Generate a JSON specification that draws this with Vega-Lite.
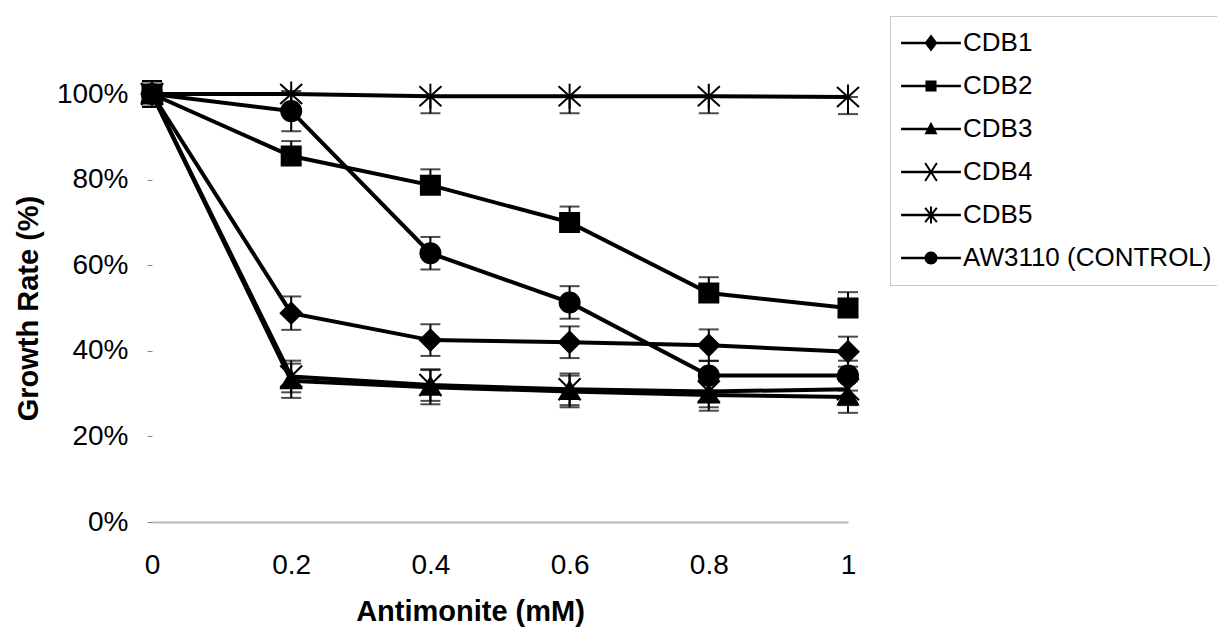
{
  "$schema": "https://vega.github.io/schema/vega-lite/v6.json",
  "width": 696,
  "height": 428,
  "autosize": {"type": "none"},
  "padding": {"left": 152, "top": 94, "right": 369, "bottom": 109},
  "background": "white",
  "config": {"view": {"stroke": null}, "font": "Liberation Sans"},
  "data": {"values": [
    {"series": "CDB1", "x": 0, "v": 1.0, "lo": 0.97, "hi": 1.03},
    {"series": "CDB1", "x": 0.2, "v": 0.488, "lo": 0.449, "hi": 0.527},
    {"series": "CDB1", "x": 0.4, "v": 0.425, "lo": 0.388, "hi": 0.462},
    {"series": "CDB1", "x": 0.6, "v": 0.42, "lo": 0.383, "hi": 0.457},
    {"series": "CDB1", "x": 0.8, "v": 0.413, "lo": 0.376, "hi": 0.45},
    {"series": "CDB1", "x": 1, "v": 0.398, "lo": 0.363, "hi": 0.433},
    {"series": "CDB2", "x": 0, "v": 1.0, "lo": 1.0, "hi": 1.03},
    {"series": "CDB2", "x": 0.2, "v": 0.855, "lo": 0.855, "hi": 0.89},
    {"series": "CDB2", "x": 0.4, "v": 0.787, "lo": 0.787, "hi": 0.824},
    {"series": "CDB2", "x": 0.6, "v": 0.70, "lo": 0.70, "hi": 0.737},
    {"series": "CDB2", "x": 0.8, "v": 0.535, "lo": 0.535, "hi": 0.572},
    {"series": "CDB2", "x": 1, "v": 0.50, "lo": 0.50, "hi": 0.537},
    {"series": "CDB3", "x": 0, "v": 1.0, "lo": 0.97, "hi": 1.03},
    {"series": "CDB3", "x": 0.2, "v": 0.33, "lo": 0.29, "hi": 0.37},
    {"series": "CDB3", "x": 0.4, "v": 0.315, "lo": 0.275, "hi": 0.355},
    {"series": "CDB3", "x": 0.6, "v": 0.305, "lo": 0.268, "hi": 0.342},
    {"series": "CDB3", "x": 0.8, "v": 0.297, "lo": 0.26, "hi": 0.334},
    {"series": "CDB3", "x": 1, "v": 0.292, "lo": 0.255, "hi": 0.329},
    {"series": "CDB4", "x": 0, "v": 1.0, "lo": 0.97, "hi": 1.03},
    {"series": "CDB4", "x": 0.2, "v": 0.34, "lo": 0.303, "hi": 0.377},
    {"series": "CDB4", "x": 0.4, "v": 0.32, "lo": 0.283, "hi": 0.357},
    {"series": "CDB4", "x": 0.6, "v": 0.31, "lo": 0.273, "hi": 0.347},
    {"series": "CDB4", "x": 0.8, "v": 0.305, "lo": 0.268, "hi": 0.342},
    {"series": "CDB4", "x": 1, "v": 0.31, "lo": 0.273, "hi": 0.347},
    {"series": "CDB5", "x": 0, "v": 1.0, "lo": 0.97, "hi": 1.0},
    {"series": "CDB5", "x": 0.2, "v": 1.0, "lo": 0.96, "hi": 1.0},
    {"series": "CDB5", "x": 0.4, "v": 0.995, "lo": 0.955, "hi": 0.995},
    {"series": "CDB5", "x": 0.6, "v": 0.995, "lo": 0.955, "hi": 0.995},
    {"series": "CDB5", "x": 0.8, "v": 0.995, "lo": 0.955, "hi": 0.995},
    {"series": "CDB5", "x": 1, "v": 0.993, "lo": 0.953, "hi": 0.993},
    {"series": "AW3110 (CONTROL)", "x": 0, "v": 1.0, "lo": 0.97, "hi": 1.03},
    {"series": "AW3110 (CONTROL)", "x": 0.2, "v": 0.96, "lo": 0.913, "hi": 1.007},
    {"series": "AW3110 (CONTROL)", "x": 0.4, "v": 0.628, "lo": 0.59, "hi": 0.666},
    {"series": "AW3110 (CONTROL)", "x": 0.6, "v": 0.513, "lo": 0.475, "hi": 0.551},
    {"series": "AW3110 (CONTROL)", "x": 0.8, "v": 0.342, "lo": 0.307, "hi": 0.377},
    {"series": "AW3110 (CONTROL)", "x": 1, "v": 0.342, "lo": 0.307, "hi": 0.377}
  ]},
  "encoding": {
    "x": {
      "field": "x", "type": "quantitative",
      "scale": {"domain": [0, 1], "nice": false, "zero": false},
      "axis": {
        "title": "Antimonite (mM)",
        "values": [0, 0.2, 0.4, 0.6, 0.8, 1],
        "format": "~g",
        "grid": false,
        "ticks": false,
        "labelFontSize": 28,
        "labelColor": "black",
        "labelFont": "Liberation Sans",
        "labelPadding": 29,
        "labelFlush": false,
        "labelOverlap": false,
        "domainColor": "#b8b8b8",
        "domainWidth": 2,
        "titleFont": "Liberation Sans",
        "titleFontSize": 29,
        "titleFontWeight": "bold",
        "titleColor": "black",
        "titlePadding": 18,
        "titleX": 318
      }
    },
    "y": {
      "field": "v", "type": "quantitative",
      "title": "Growth Rate (%)",
      "scale": {"domain": [0, 1], "nice": false},
      "axis": {
        "title": "Growth Rate (%)",
        "values": [0, 0.2, 0.4, 0.6, 0.8, 1],
        "format": ".0%",
        "grid": false,
        "domain": false,
        "tickColor": "#888888",
        "tickSize": 5,
        "labelFontSize": 28,
        "labelColor": "black",
        "labelFont": "Liberation Sans",
        "labelPadding": 19,
        "labelFlush": false,
        "labelOverlap": false,
        "titleFont": "Liberation Sans",
        "titleFontSize": 29,
        "titleFontWeight": "bold",
        "titleColor": "black",
        "titlePadding": 13
      }
    }
  },
  "layer": [
    {
      "mark": {"type": "line", "color": "black", "strokeWidth": 4},
      "encoding": {"detail": {"field": "series"}}
    },
    {
      "mark": {"type": "errorbar", "color": "black", "thickness": 2, "ticks": {"size": 20, "color": "black"}},
      "encoding": {
        "y": {"field": "lo", "type": "quantitative", "title": "Growth Rate (%)"},
        "y2": {"field": "hi"},
        "detail": {"field": "series"}
      }
    },
    {
      "mark": {"type": "point", "filled": true, "color": "black", "stroke": "black", "strokeWidth": 2, "size": 400, "opacity": 1},
      "encoding": {
        "shape": {
          "field": "series",
          "scale": {
            "domain": ["CDB1", "CDB2", "CDB3", "CDB4", "CDB5", "AW3110 (CONTROL)"],
            "range": [
              "M-1.05,0L0,-1.05L1.05,0L0,1.05Z",
              "M-0.95,-0.95L0.95,-0.95L0.95,0.95L-0.95,0.95Z",
              "M0,-1L1,0.75L-1,0.75Z",
              "M-1.1,-1.1L1.1,1.1M-1.1,1.1L1.1,-1.1",
              "M-1.1,-1L1.1,1M-1.1,1L1.1,-1M0,-1.25L0,1.25",
              "M-1,0A1,1,0,1,1,1,0A1,1,0,1,1,-1,0Z"
            ]
          },
          "legend": null
        }
      }
    },
    {
      "transform": [{"filter": "datum.x > 5"}],
      "mark": {"type": "point", "filled": true, "color": "black", "size": 169, "opacity": 1},
      "encoding": {
        "shape": {
          "field": "series",
          "scale": {
            "domain": ["CDB1", "CDB2", "CDB3", "CDB4", "CDB5", "AW3110 (CONTROL)"],
            "range": [
              "M-4.6,-0.2L4.6,-0.2L4.6,0.2L-4.6,0.2ZM-1,0L0,-1.3L1,0L0,1.3Z",
              "M-4.6,-0.2L4.6,-0.2L4.6,0.2L-4.6,0.2ZM-0.85,-0.85L0.85,-0.85L0.85,0.85L-0.85,0.85Z",
              "M-4.6,-0.2L4.6,-0.2L4.6,0.2L-4.6,0.2ZM0,-1.1L1,0.8L-1,0.8Z",
              "M-4.6,-0.2L4.6,-0.2L4.6,0.2L-4.6,0.2ZM-0.77,-1.48L1.03,1.32L0.77,1.48L-1.03,-1.32ZM-1.03,1.32L0.77,-1.48L1.03,-1.32L-0.77,1.48Z",
              "M-4.6,-0.2L4.6,-0.2L4.6,0.2L-4.6,0.2ZM-0.78,-1.2L1.02,1L0.78,1.2L-1.02,-1ZM-1.02,1L0.78,-1.2L1.02,-1L-0.78,1.2ZM-0.15,-1.3L0.15,-1.3L0.15,1.3L-0.15,1.3Z",
              "M-4.6,-0.2L4.6,-0.2L4.6,0.2L-4.6,0.2ZM-1,0A1,1,0,1,1,1,0A1,1,0,1,1,-1,0Z"
            ]
          },
          "legend": {
            "orient": "none",
            "legendX": 738,
            "legendY": -78,
            "title": null,
            "labelFontSize": 26,
            "labelFont": "Liberation Sans",
            "labelColor": "black",
            "labelLimit": 500,
            "symbolSize": 169,
            "symbolStrokeWidth": 0,
            "symbolFillColor": "black",
            "symbolOpacity": 1,
            "symbolOffset": 14,
            "labelOffset": 19,
            "rowPadding": 17,
            "padding": 14,
            "strokeColor": "#c8c8c8",
            "encode": {
              "legend": {"strokeDash": {"value": [6, 3]}, "strokeWidth": {"value": 1.5}},
              "symbols": {"fill": {"value": "black"}, "opacity": {"value": 1}, "fillOpacity": {"value": 1}}
            }
          }
        }
      }
    }
  ],
  "resolve": {"scale": {"shape": "independent"}}
}
